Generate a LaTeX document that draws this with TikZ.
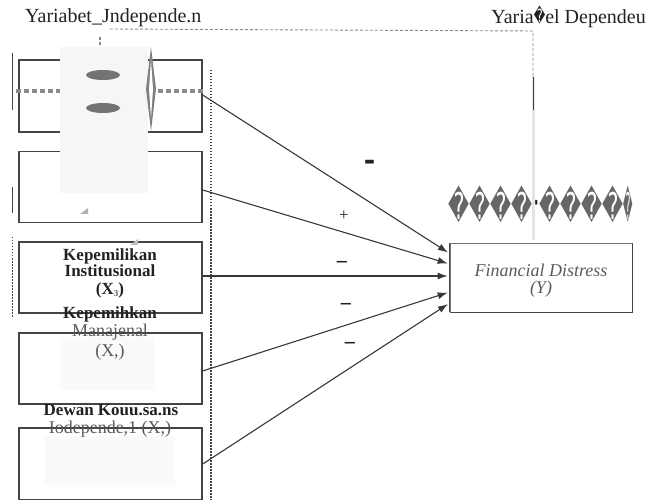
\documentclass[tikz,border=0pt]{standalone}
\usepackage{fontspec}
\setmainfont{Liberation Serif}
\newfontfamily\dvs{DejaVu Sans}
\usetikzlibrary{arrows.meta}
\definecolor{boxline}{HTML}{444444}
\definecolor{txt}{HTML}{222222}
\definecolor{softtxt}{HTML}{5A5A5A}
\definecolor{dashgray}{HTML}{8A8A8A}
\definecolor{veil}{HTML}{F6F6F6}
\definecolor{faintveil}{HTML}{FAFAFA}
\tikzset{
  varbox/.style={draw=boxline, line width=1.4pt, minimum width=183pt, inner sep=0pt},
  rel/.style={draw=txt!90, line width=1.1pt, -{Latex[length=10pt,width=7pt]}, shorten >=2pt},
  sign/.style={font=\fontsize{22}{22}\selectfont\bfseries, text=txt, inner sep=0pt},
  guide/.style={draw=dashgray, line width=0.9pt, dash pattern=on 3pt off 2pt},
  titletxt/.style={font=\fontsize{20}{20}\selectfont, text=txt, inner sep=0pt},
  boxtxt/.style={font=\fontsize{17}{16.5}\selectfont\bfseries, text=txt, align=center, inner sep=0pt},
  softbox/.style={font=\fontsize{18}{18}\selectfont, text=softtxt, align=center, inner sep=0pt},
}
\begin{document}
\begin{tikzpicture}[x=1pt,y=-1pt]
\useasboundingbox (0,0) rectangle (646,500);
\fill[white] (0,0) rectangle (646,500);

% titles
\node[titletxt, anchor=west] (tin) at (25,18) {Yariabet\_Jndepende.n};
\node[titletxt, anchor=east] (tdep) at (646,17) {Yaria{\dvs\fontsize{14}{14}\selectfont\raisebox{0.5pt}{\scalebox{0.8}[1.3]{�}}}el Dependeu};

% top dashed connection
\coordinate (dl) at (110,29);
\coordinate (dr) at (533,31);
\coordinate (dd) at (533,76);
\draw[guide] (dl) -- (dr) -- (dd);
\draw[draw=black!10, line width=3pt] (533,76) -- (533,240);
\draw[draw=boxline, line width=0.8pt] (533,77) -- (533,110);
\draw[guide, line width=1.2pt] (100,37) -- (100,52);

% left guide lines
\draw[draw=boxline, line width=0.6pt] (12,53) -- (12,110);
\draw[draw=boxline, line width=0.6pt] (12,187) -- (12,213);
\draw[draw=boxline, line width=1pt, dash pattern=on 1.5pt off 1.5pt] (12,237) -- (12,317);
\draw[draw=boxline, line width=1.2pt, dash pattern=on 1.5pt off 1.5pt] (211,70) -- (211,500);

% left boxes
\node[varbox, minimum height=72pt] (b1) at (110.5,96) {};
\node[varbox, minimum height=71pt] (b2) at (110.5,187) {};
\node[varbox, minimum height=71pt] (b3) at (110.5,277.5) {};
\node[varbox, minimum height=71pt] (b4) at (110.5,368.5) {};
\node[varbox, minimum height=72pt] (b5) at (110.5,464) {};

% veil over box1/box2
\fill[veil] (60,47) rectangle (148,193);
\fill[black!55] (103,75) ellipse [x radius=17, y radius=5];
\fill[black!55] (103,108) ellipse [x radius=17, y radius=5];
\fill[black!50] (151,47) -- (156,89) -- (151,131) -- (146,89) -- cycle;
\fill[white] (151,60) -- (153,89) -- (151,118) -- (149,89) -- cycle;
\draw[draw=dashgray, line width=4pt, dash pattern=on 5pt off 3pt] (16,91) -- (60,91);
\draw[draw=dashgray, line width=4pt, dash pattern=on 5pt off 3pt] (158,91) -- (205,91);
\fill[black!30] (80,214) -- (88,208) -- (88,214) -- cycle;
\fill[black!25] (130,245) -- (138,239) -- (138,245) -- cycle;

% faint veils in boxes 4 and 5
\fill[faintveil] (60,337) rectangle (155,390);
\fill[faintveil] (45,436) rectangle (175,485);

% box texts
\node[boxtxt] (l3) at (110,273) {Kepemilikan\\Institusional\\[1pt](X\raisebox{-0.3ex}{\color{softtxt}\fontsize{9}{9}\selectfont 3})};
\node[boxtxt] (l4a) at (110,314) {Kepemihkan};
\node[softbox] (l4b) at (110,332) {Manajenal};
\node[softbox] (l4c) at (110,352) {(X,)};
\node[boxtxt] (l5a) at (111,410) {Dewan Kouu.sa.ns};
\node[softbox] (l5b) at (110,429) {Iodepende,1\ (X,)};
\draw[draw=boxline, line width=1.4pt] (b4.north west) -- (b4.north east);
\draw[draw=boxline, line width=1.4pt] (b5.north west) -- (b5.north east);

% dependent box
\node[draw=black!55, line width=0.8pt, minimum width=182pt, minimum height=69pt, inner sep=0pt] (fd) at (541,277.5) {};
\draw[draw=boxline, line width=1.8pt] (fd.north east) -- (fd.south east) -- (fd.south west);
\draw[draw=boxline, line width=1pt] (fd.north west) -- (fd.south west);
\node[font=\fontsize{18}{17}\selectfont\itshape, text=softtxt, align=center, inner sep=0pt] (fdt) at (541,281) {Financial Distress\\(Y)};

% replacement characters row
\node[inner sep=0pt, text=black!60] (rc) at (541,204) {\dvs\fontsize{20.5}{20.5}\selectfont\scalebox{1}[1.8]{����\raisebox{0.2ex}{\textcolor{txt}{·}}����\scalebox{0.45}[1]{�}}};

% arrow targets
\coordinate (t1) at ([yshift=24pt]fd.west);
\coordinate (t2) at ([yshift=13.5pt]fd.west);
\coordinate (t3) at ([yshift=1.5pt]fd.west);
\coordinate (t4) at ([yshift=-14.5pt]fd.west);
\coordinate (t5) at ([yshift=-25.5pt]fd.west);
\draw[rel] ([yshift=1pt]b1.east) -- (t1);
\draw[rel] ([yshift=-3pt]b2.east) -- (t2);
\draw[rel] ([yshift=1.5pt]b3.east) -- (t3);
\draw[rel] ([yshift=-2.5pt]b4.east) -- (t4);
\draw[rel] (b5.east) -- (t5);

% signs
\node[sign] (s1) at (370,166) {\scalebox{1.5}[2]{-}};
\node[sign, font=\fontsize{17}{17}\selectfont] (s2) at (344,216) {+};
\node[sign] (s3) at (342,265) {−};
\node[sign] (s4) at (346,307) {−};
\node[sign] (s5) at (350,346) {−};
\end{tikzpicture}
\end{document}
